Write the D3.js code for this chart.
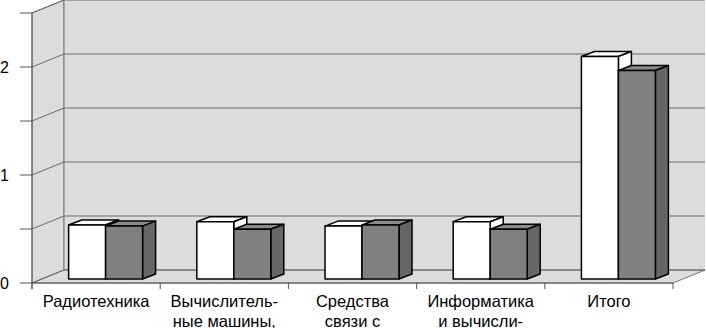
<!DOCTYPE html>
<html>
  <head>
    <meta charset="utf-8">
    <title>3D column chart</title>
    <script src="https://d3js.org/d3.v7.min.js"></script>
    <style>
      body { margin: 0; background: #fff; }
      text { font-family: "Liberation Sans", Arial, sans-serif; }
    </style>
  </head>
  <body>
    <div id="chart"></div>
    <script>
      // categories (labels are cut off in the original, two lines each)
      var categories = ["Радиотехника", "Вычислительные", "Средства", "Информатика", "Итого"];
      var labelLines = [
        ["Радиотехника"],
        ["Вычислитель-", "ные машины,"],
        ["Средства", "связи с"],
        ["Информатика", "и вычисли-"],
        ["Итого"]
      ];
      var series = ["s1", "s2"];
      var whiteValues = [0.50, 0.53, 0.49, 0.53, 2.06];
      var greyValues = [0.49, 0.46, 0.50, 0.46, 1.93];
      var yTicks = [0, 0.5, 1, 1.5, 2, 2.5];
      var yLabels = [0, 1, 2];

      var width = 706, height = 328;
      var depthX = 32, depthY = -13;       // floor depth
      var barOffX = 9.5, barOffY = -4;     // bar front plane
      var barDX = 13, barDY = -5;          // bar depth

      var svg = d3.select("#chart").append("svg")
                  .attr("width", width)
                  .attr("height", height);

      var x0 = d3.scaleBand().domain(categories).range([32, 673]);
      var bw = x0.bandwidth();
      var groupW = bw * 0.577;
      var x1 = d3.scaleBand().domain(series).range([(bw - groupW) / 2, (bw + groupW) / 2]);
      var y = d3.scaleLinear().domain([0, 2.5]).range([283, 13]);

      var x0min = x0.range()[0], x0max = x0.range()[1];

      // walls
      svg.append("polygon")
         .attr("points", [[x0min, y(0)], [x0min, y(2.5)], [x0min + depthX, y(2.5) + depthY], [x0min + depthX, y(0) + depthY]].join(" "))
         .attr("fill", "#dcdcdc").attr("stroke", "#777").attr("stroke-width", 1);
      svg.append("polygon")
         .attr("points", [[x0min + depthX, y(2.5) + depthY], [x0max + depthX, y(2.5) + depthY], [x0max + depthX, y(0) + depthY], [x0min + depthX, y(0) + depthY]].join(" "))
         .attr("fill", "#dcdcdc").attr("stroke", "none");
      svg.append("polygon")
         .attr("points", [[x0min, y(0)], [x0max, y(0)], [x0max + depthX, y(0) + depthY], [x0min + depthX, y(0) + depthY]].join(" "))
         .attr("fill", "#dcdcdc").attr("stroke", "#777").attr("stroke-width", 1);

      // gridlines
      var grid = svg.append("g").attr("fill", "none").attr("stroke", "#6a6a6a").attr("stroke-width", 1);
      yTicks.forEach(function(t) {
        grid.append("polyline")
            .attr("points", [[x0min, y(t)], [x0min + depthX, y(t) + depthY], [x0max + depthX, y(t) + depthY]].join(" "));
      });
      svg.append("line")
         .attr("x1", x0min + depthX).attr("x2", x0min + depthX)
         .attr("y1", y(2.5) + depthY).attr("y2", y(0) + depthY)
         .attr("stroke", "#777");

      // y axis
      var yAxis = svg.append("g");
      yAxis.append("line")
           .attr("x1", x0min).attr("x2", x0min)
           .attr("y1", y(2.5)).attr("y2", y(0) + 6)
           .attr("stroke", "#555");
      yAxis.selectAll("line.tick").data(yTicks).enter().append("line")
           .attr("class", "tick")
           .attr("x1", x0min - 12).attr("x2", x0min)
           .attr("y1", function(d) { return y(d); })
           .attr("y2", function(d) { return y(d); })
           .attr("stroke", "#555");
      yAxis.selectAll("text").data(yLabels).enter().append("text")
           .attr("x", 9)
           .attr("y", function(d) { return y(d); })
           .attr("dy", "0.38em")
           .attr("text-anchor", "end")
           .style("font-size", "16px")
           .text(function(d) { return d; });

      // x axis
      var xAxis = svg.append("g");
      xAxis.append("line")
           .attr("x1", x0min).attr("x2", x0max)
           .attr("y1", y(0)).attr("y2", y(0))
           .attr("stroke", "#555");
      var bounds = categories.map(function(c) { return x0(c); }).concat([x0max]);
      xAxis.selectAll("line.tick").data(bounds).enter().append("line")
           .attr("class", "tick")
           .attr("x1", function(d) { return d; }).attr("x2", function(d) { return d; })
           .attr("y1", y(0)).attr("y2", y(0) + 6)
           .attr("stroke", "#555");
      categories.forEach(function(c, i) {
        var t = xAxis.append("text")
                     .attr("x", x0(c) + bw / 2)
                     .attr("y", 307)
                     .attr("text-anchor", "middle")
                     .style("font-size", "16.5px");
        labelLines[i].forEach(function(line, j) {
          t.append("tspan").attr("x", x0(c) + bw / 2).attr("dy", j ? 20 : 0).text(line);
        });
      });

      // bars
      var colors = {
        s1: {front: "#ffffff", top: "#ffffff", side: "#ffffff"},
        s2: {front: "#808080", top: "#8c8c8c", side: "#666666"}
      };
      function drawBar(g, xl, w, v, col) {
        var xr = xl + w;
        var yb = y(0) + barOffY, yt = y(v) + barOffY;
        g.append("polygon")
         .attr("points", [[xl, yt], [xl + barDX, yt + barDY], [xr + barDX, yt + barDY], [xr, yt]].join(" "))
         .attr("fill", col.top);
        g.append("polygon")
         .attr("points", [[xr, yt], [xr + barDX, yt + barDY], [xr + barDX, yb + barDY], [xr, yb]].join(" "))
         .attr("fill", col.side);
        g.append("rect")
         .attr("x", xl).attr("y", yt).attr("width", w).attr("height", yb - yt)
         .attr("fill", col.front);
      }
      var bars = svg.append("g")
                    .attr("stroke", "#000")
                    .attr("stroke-width", 1.5)
                    .attr("stroke-linejoin", "round");
      categories.forEach(function(c, i) {
        drawBar(bars, x0(c) + x1("s1") + barOffX, x1.bandwidth(), whiteValues[i], colors.s1);
        drawBar(bars, x0(c) + x1("s2") + barOffX, x1.bandwidth(), greyValues[i], colors.s2);
      });
    </script>
  </body>
</html>
